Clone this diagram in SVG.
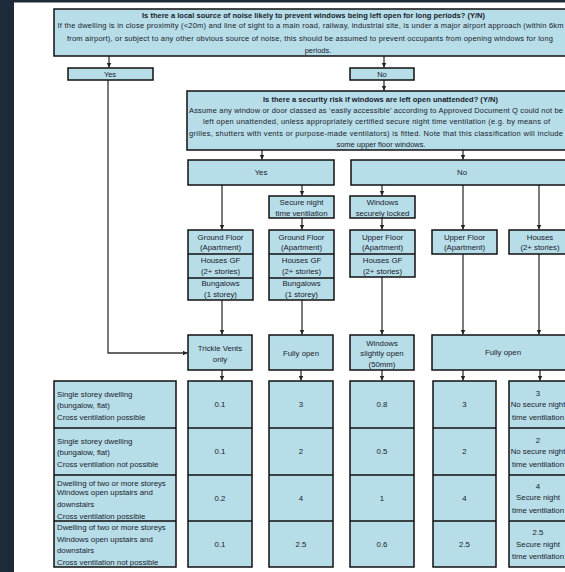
<svg xmlns="http://www.w3.org/2000/svg" width="565" height="572" viewBox="0 0 565 572">
<defs>
<style>
.bg{fill:#ffffff}
.frame{fill:#1d2a3a}
.box{fill:#b7dee8;stroke:#111;stroke-width:1.5}
.div{stroke:#111;stroke-width:1.5;fill:none}
.t{font-family:"Liberation Sans",Arial,sans-serif;font-size:7.8px;fill:#18202c;text-anchor:middle}
.s{font-size:7.5px}
.b{font-weight:bold}
.l{text-anchor:start}
.con path{fill:none;stroke:#333;stroke-width:1.3}
</style>
<marker id="ah" markerUnits="userSpaceOnUse" markerWidth="6" markerHeight="6" refX="5" refY="3" orient="auto">
<path d="M0,0.5 L5,3 L0,5.5 Z" fill="#222"/>
</marker>
</defs>
<rect class="bg" x="0" y="0" width="565" height="572"/>
<rect class="frame" x="0" y="0" width="14" height="572"/>
<rect class="frame" x="0" y="0" width="565" height="2.5"/>

<g id="connectors" class="con">
<path d="M109,56 V67.5" marker-end="url(#ah)"/>
<path d="M384,56 V67.5" marker-end="url(#ah)"/>
<path d="M384,80 V90.5" marker-end="url(#ah)"/>
<path d="M108,80 V353 H187.5" marker-end="url(#ah)"/>
<path d="M262,150 V159.5" marker-end="url(#ah)"/>
<path d="M463,150 V159.5" marker-end="url(#ah)"/>
<path d="M222,185 V229.5" marker-end="url(#ah)"/>
<path d="M302,185 V195.5" marker-end="url(#ah)"/>
<path d="M302,218 V229.5" marker-end="url(#ah)"/>
<path d="M382,185 V195.5" marker-end="url(#ah)"/>
<path d="M382,218 V229.5" marker-end="url(#ah)"/>
<path d="M463,185 V229.5" marker-end="url(#ah)"/>
<path d="M539,185 V229.5" marker-end="url(#ah)"/>
<path d="M222,300 V334.5" marker-end="url(#ah)"/>
<path d="M302,300 V334.5" marker-end="url(#ah)"/>
<path d="M382,277 V334.5" marker-end="url(#ah)"/>
<path d="M463,254 V334.5" marker-end="url(#ah)"/>
<path d="M539,254 V334.5" marker-end="url(#ah)"/>
<path d="M222,370 V380.5" marker-end="url(#ah)"/>
<path d="M301,370 V380.5" marker-end="url(#ah)"/>
<path d="M382,370 V380.5" marker-end="url(#ah)"/>
<path d="M463,370 V380.5" marker-end="url(#ah)"/>
<path d="M540,370 V380.5" marker-end="url(#ah)"/>
</g>

<g id="q-noise">
<rect class="box" x="54" y="9" width="520" height="47"/>
<text class="t s b" x="313.5" y="18.2" textLength="343">Is there a local source of noise likely to prevent windows being left open for long periods? (Y/N)</text>
<text class="t s" x="310.5" y="28.3" textLength="506">If the dwelling is in close proximity (&lt;20m) and line of sight to a main road, railway, industrial site, is under a major airport approach (within 6km</text>
<text class="t s" x="310" y="40.8" textLength="486">from airport), or subject to any other obvious source of noise, this should be assumed to prevent occupants from opening windows for long</text>
<text class="t s" x="318" y="53.3">periods.</text>
</g>

<g id="noise-yes">
<rect class="box" x="68" y="68" width="85" height="12"/>
<text class="t s" x="110" y="76.6">Yes</text>
</g>
<g id="noise-no">
<rect class="box" x="350" y="68" width="64" height="12"/>
<text class="t s" x="382" y="76.6">No</text>
</g>

<g id="q-security">
<rect class="box" x="187" y="91" width="386" height="59"/>
<text class="t s b" x="380.5" y="101.6" textLength="235">Is there a security risk if windows are left open unattended? (Y/N)</text>
<text class="t s" x="376" y="113.3" textLength="374">Assume any window or door classed as ‘easily accessible’ according to Approved Document Q could not be</text>
<text class="t s" x="376.5" y="123.6" textLength="347">left open unattended, unless appropriately certified secure night time ventilation (e.g. by means of</text>
<text class="t s" x="376" y="135.9" textLength="374">grilles, shutters with vents or purpose-made ventilators) is fitted. Note that this classification will include</text>
<text class="t s" x="381" y="146.9">some upper floor windows.</text>
</g>

<g id="security-yes">
<rect class="box" x="188" y="160" width="146" height="25"/>
<text class="t" x="261" y="175">Yes</text>
</g>
<g id="security-no">
<rect class="box" x="351" y="160" width="222" height="25"/>
<text class="t" x="462" y="175">No</text>
</g>

<g id="secure-night">
<rect class="box" x="269" y="196" width="65" height="22"/>
<text class="t" x="301.5" y="204.6">Secure night</text>
<text class="t" x="301.5" y="216">time ventilation</text>
</g>
<g id="windows-locked">
<rect class="box" x="350" y="196" width="65" height="22"/>
<text class="t" x="382.5" y="204.6">Windows</text>
<text class="t" x="382.5" y="216">securely locked</text>
</g>

<g id="dwellings-1">
<rect class="box" x="188" y="230" width="65" height="70"/>
<path class="div" d="M188,254 H253 M188,278 H253"/>
<text class="t" x="220.5" y="239.6">Ground Floor</text>
<text class="t" x="220.5" y="250">(Apartment)</text>
<text class="t" x="220.5" y="262.8">Houses GF</text>
<text class="t" x="220.5" y="274.3">(2+ stories)</text>
<text class="t" x="220.5" y="285.6">Bungalows</text>
<text class="t" x="220.5" y="296.6">(1 storey)</text>
</g>
<g id="dwellings-2">
<rect class="box" x="269" y="230" width="65" height="70"/>
<path class="div" d="M269,254 H334 M269,278 H334"/>
<text class="t" x="301.5" y="239.6">Ground Floor</text>
<text class="t" x="301.5" y="250">(Apartment)</text>
<text class="t" x="301.5" y="262.8">Houses GF</text>
<text class="t" x="301.5" y="274.3">(2+ stories)</text>
<text class="t" x="301.5" y="285.6">Bungalows</text>
<text class="t" x="301.5" y="296.6">(1 storey)</text>
</g>
<g id="dwellings-3">
<rect class="box" x="350" y="230" width="65" height="47"/>
<path class="div" d="M350,254 H415"/>
<text class="t" x="382.5" y="239.6">Upper Floor</text>
<text class="t" x="382.5" y="250">(Apartment)</text>
<text class="t" x="382.5" y="262.8">Houses GF</text>
<text class="t" x="382.5" y="274.3">(2+ stories)</text>
</g>
<g id="dwellings-4">
<rect class="box" x="432" y="230" width="65" height="24"/>
<text class="t" x="464.5" y="239.6">Upper Floor</text>
<text class="t" x="464.5" y="250">(Apartment)</text>
</g>
<g id="dwellings-5">
<rect class="box" x="509" y="230" width="63" height="24"/>
<text class="t" x="540" y="239.6">Houses</text>
<text class="t" x="540" y="250">(2+ stories)</text>
</g>

<g id="outcome-trickle">
<rect class="box" x="188" y="335" width="64" height="35"/>
<text class="t" x="220" y="350.6">Trickle Vents</text>
<text class="t" x="220" y="361.6">only</text>
</g>
<g id="outcome-fully-open-1">
<rect class="box" x="269" y="335" width="64" height="35"/>
<text class="t" x="301" y="355.6">Fully open</text>
</g>
<g id="outcome-slightly-open">
<rect class="box" x="350" y="335" width="64" height="35"/>
<text class="t" x="382" y="345.6">Windows</text>
<text class="t" x="382" y="356">slightly open</text>
<text class="t" x="382" y="367.4">(50mm)</text>
</g>
<g id="outcome-fully-open-2">
<rect class="box" x="432" y="335" width="141" height="35"/>
<text class="t" x="503" y="354.8">Fully open</text>
</g>

<g id="table-labels">
<rect class="box" x="54" y="381" width="122" height="186"/>
<path class="div" d="M54,428 H176 M54,475 H176 M54,521 H176"/>
<text class="t l" x="57" y="396.5">Single storey dwelling</text>
<text class="t l" x="57" y="407.7">(bungalow, flat)</text>
<text class="t l" x="57" y="419.5">Cross ventilation possible</text>
<text class="t l" x="57" y="443.5">Single storey dwelling</text>
<text class="t l" x="57" y="454.7">(bungalow, flat)</text>
<text class="t l" x="57" y="466.5">Cross ventilation not possible</text>
<text class="t l" x="57" y="485.8">Dwelling of two or more storeys</text>
<text class="t l" x="57" y="494.9">Windows open upstairs and</text>
<text class="t l" x="57" y="506.8">downstairs</text>
<text class="t l" x="57" y="518.5">Cross ventilation possible</text>
<text class="t l" x="57" y="530.2">Dwelling of two or more storeys</text>
<text class="t l" x="57" y="541.5">Windows open upstairs and</text>
<text class="t l" x="57" y="552.8">downstairs</text>
<text class="t l" x="57" y="564.5">Cross ventilation not possible</text>
</g>

<g id="table-col-1">
<rect class="box" x="188" y="381" width="64" height="186"/>
<path class="div" d="M188,428 H252 M188,475 H252 M188,521 H252"/>
<text class="t" x="220" y="407.2">0.1</text>
<text class="t" x="220" y="454.2">0.1</text>
<text class="t" x="220" y="500.6">0.2</text>
<text class="t" x="220" y="546.6">0.1</text>
</g>
<g id="table-col-2">
<rect class="box" x="269" y="381" width="64" height="186"/>
<path class="div" d="M269,428 H333 M269,475 H333 M269,521 H333"/>
<text class="t" x="301" y="407.2">3</text>
<text class="t" x="301" y="454.2">2</text>
<text class="t" x="301" y="500.6">4</text>
<text class="t" x="301" y="546.6">2.5</text>
</g>
<g id="table-col-3">
<rect class="box" x="350" y="381" width="64" height="186"/>
<path class="div" d="M350,428 H414 M350,475 H414 M350,521 H414"/>
<text class="t" x="382" y="407.2">0.8</text>
<text class="t" x="382" y="454.2">0.5</text>
<text class="t" x="382" y="500.6">1</text>
<text class="t" x="382" y="546.6">0.6</text>
</g>
<g id="table-col-4">
<rect class="box" x="433" y="381" width="63" height="186"/>
<path class="div" d="M433,428 H496 M433,475 H496 M433,521 H496"/>
<text class="t" x="464.5" y="407.2">3</text>
<text class="t" x="464.5" y="454.2">2</text>
<text class="t" x="464.5" y="500.6">4</text>
<text class="t" x="464.5" y="546.6">2.5</text>
</g>
<g id="table-col-5">
<rect class="box" x="509" y="381" width="64" height="186"/>
<path class="div" d="M509,428 H573 M509,475 H573 M509,521 H573"/>
<text class="t" x="538" y="395.6">3</text>
<text class="t" x="538" y="407.4">No secure night</text>
<text class="t" x="538" y="419.6">time ventilation</text>
<text class="t" x="538" y="442.6">2</text>
<text class="t" x="538" y="454.4">No secure night</text>
<text class="t" x="538" y="466.6">time ventilation</text>
<text class="t" x="538" y="488.6">4</text>
<text class="t" x="538" y="500.4">Secure night</text>
<text class="t" x="538" y="512.6">time ventilation</text>
<text class="t" x="538" y="535.2">2.5</text>
<text class="t" x="538" y="547">Secure night</text>
<text class="t" x="538" y="559.2">time ventilation</text>
</g>
</svg>
